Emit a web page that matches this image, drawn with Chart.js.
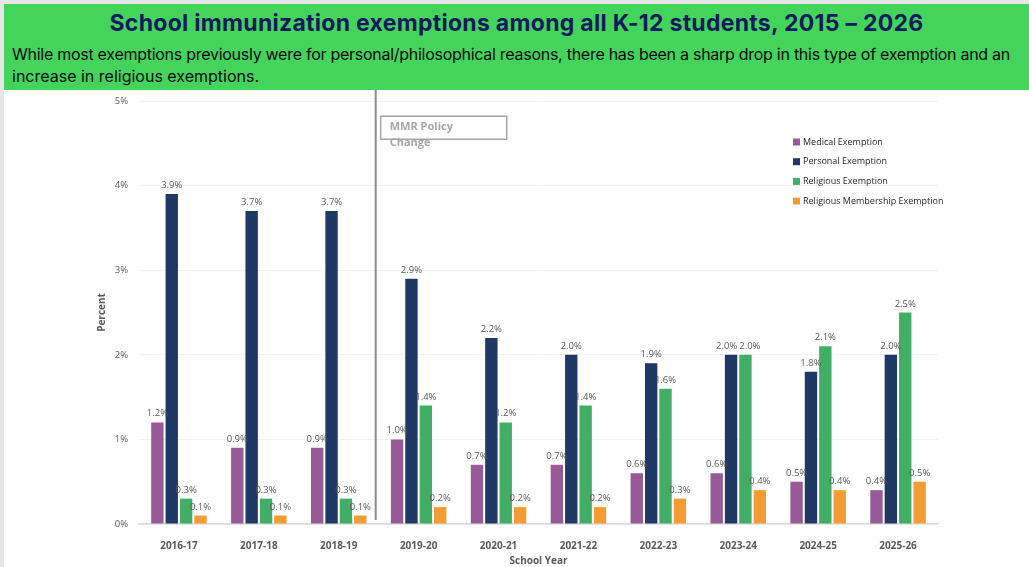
<!DOCTYPE html>
<html>
<head>
<meta charset="utf-8">
<script src="https://cdn.jsdelivr.net/npm/chart.js@4/dist/chart.umd.min.js"></script>
<style>
  html, body { margin: 0; padding: 0; }
  body { width: 1029px; height: 567px; background: #e6e6e6; position: relative; overflow: hidden; }
  #header {
    position: absolute; left: 4px; top: 4px; width: 1025px; height: 86px;
    background: #44d45c; font-family: "Inter", "Open Sans", sans-serif;
  }
  #title {
    position: absolute; left: 0; top: 5px; width: 1025px; text-align: center;
    font-size: 23px; font-weight: bold; color: #13195e; white-space: nowrap;
  }
  #sub {
    position: absolute; left: 8px; top: 39px; width: 1015px; white-space: nowrap;
    font-size: 16px; line-height: 22px; color: #0a0a0a;
  }
  #wrap { position: absolute; left: 4px; top: 90px; width: 1025px; height: 477px; background: #fff; }
</style>
</head>
<body>
<div id="header">
  <div id="title"><span id="titleText">School immunization exemptions among all K-12 students, 2015 – 2026</span></div>
  <div id="sub"><span id="subLine1">While most exemptions previously were for personal/philosophical reasons, there has been a sharp drop in this type of exemption and an</span><br>increase in religious exemptions.</div>
</div>
<div id="wrap"><canvas id="myChart"></canvas></div>
<script>
// ============================================
// DATA
// ============================================

const years = ['2016-17', '2017-18', '2018-19', '2019-20', '2020-21',
    '2021-22', '2022-23', '2023-24', '2024-25', '2025-26'];

const medical = [1.2, 0.9, 0.9, 1.0, 0.7, 0.7, 0.6, 0.6, 0.5, 0.4];
const personal = [3.9, 3.7, 3.7, 2.9, 2.2, 2.0, 1.9, 2.0, 1.8, 2.0];
const religious = [0.3, 0.3, 0.3, 1.4, 1.2, 1.4, 1.6, 2.0, 2.1, 2.5];
const membership = [0.1, 0.1, 0.1, 0.2, 0.2, 0.2, 0.3, 0.4, 0.4, 0.5];

const seriesNames = ['Medical Exemption', 'Personal Exemption',
    'Religious Exemption', 'Religious Membership Exemption'];
const seriesColors = ['#975a97', '#1f3864', '#42ad64', '#f19d33'];

const policyIndex = 3; // policy change before 2019-20

const labelFont = '"Open Sans", "Noto Sans", sans-serif';

// ============================================
// HEADER TEXT FIT
// ============================================

function fitWidth(el, target) {
    const w = el.getBoundingClientRect().width;
    const n = el.textContent.length;
    el.style.letterSpacing = ((target - w) / n) + 'px';
}
fitWidth(document.getElementById('titleText'), 814);
fitWidth(document.getElementById('subLine1'), 998);

// ============================================
// PLUGINS
// ============================================

const valueLabels = {
    id: 'valueLabels',
    afterDatasetsDraw(chart) {
        const c = chart.ctx;
        c.save();
        c.font = '9.5px ' + labelFont;
        c.fillStyle = '#595959';
        c.textAlign = 'center';
        c.textBaseline = 'alphabetic';
        const n = chart.data.labels.length;
        const metas = chart.data.datasets.map((ds, di) => chart.getDatasetMeta(di));
        for (let i = 0; i < n; i++) {
            const items = metas.map((m, di) => {
                const txt = chart.data.datasets[di].data[i].toFixed(1) + '%';
                return { txt, x: m.data[i].x, y: m.data[i].y - 6, w: c.measureText(txt).width };
            });
            // push apart neighbouring labels that would collide
            for (let k = 0; k < items.length - 1; k++) {
                const a = items[k], b = items[k + 1];
                const need = (a.w + b.w) / 2 + 2;
                if (Math.abs(a.y - b.y) < 11 && b.x - a.x < need) {
                    const d = (need - (b.x - a.x)) / 2;
                    a.x -= d;
                    b.x += d;
                }
            }
            items.forEach(it => c.fillText(it.txt, it.x, it.y));
        }
        c.restore();
    }
};

const policyLine = {
    id: 'policyLine',
    afterDatasetsDraw(chart) {
        const c = chart.ctx;
        const x = chart.scales.x;
        const y = chart.scales.y;
        const lx = (x.getPixelForValue(policyIndex - 1) + x.getPixelForValue(policyIndex)) / 2 - 3;
        c.save();
        c.strokeStyle = '#8c8c8c';
        c.lineWidth = 2;
        c.beginPath();
        c.moveTo(lx, 0);
        c.lineTo(lx, y.getPixelForValue(0) - 4);
        c.stroke();

        // annotation box
        const bx = lx + 5;
        const by = y.getPixelForValue(4.82);
        c.strokeStyle = '#a6a6a6';
        c.lineWidth = 1.5;
        c.strokeRect(bx, by, 126, 23);
        c.font = 'bold 11px ' + labelFont;
        c.fillStyle = '#a6a6a6';
        c.textAlign = 'left';
        c.textBaseline = 'middle';
        c.fillText('MMR Policy', bx + 9, by + 11);
        c.fillText('Change', bx + 9, by + 27);
        c.restore();
    }
};

const sideLegend = {
    id: 'sideLegend',
    afterDraw(chart) {
        const c = chart.ctx;
        const lx = chart.chartArea.right - 145;
        const ly = chart.chartArea.top + 41;
        c.save();
        c.font = '9px ' + labelFont;
        c.textAlign = 'left';
        c.textBaseline = 'middle';
        chart.data.datasets.forEach((ds, i) => {
            const yy = ly + i * 19.7;
            c.fillStyle = ds.backgroundColor;
            c.fillRect(lx, yy - 3.5, 7, 7);
            c.fillStyle = '#262626';
            c.fillText(ds.label, lx + 10, yy);
        });
        c.restore();
    }
};

// ============================================
// CREATE CHART
// ============================================

const ctx = document.getElementById('myChart');

new Chart(ctx, {

    type: 'bar',

    data: {
        labels: years,
        datasets: [medical, personal, religious, membership].map((d, i) => ({
            label: seriesNames[i],
            data: d,
            backgroundColor: seriesColors[i],
            categoryPercentage: 0.72,
            barPercentage: 0.86
        }))
    },

    options: {
        responsive: true,
        maintainAspectRatio: false,
        animation: false,
        layout: {
            padding: { left: 88, right: 91, top: 11, bottom: 0 }
        },
        plugins: {
            legend: { display: false },
            tooltip: { enabled: false }
        },
        scales: {
            x: {
                afterFit(scale) { scale.height = 43; },
                grid: { display: false },
                border: { color: '#d9d9d9', width: 1.5 },
                ticks: {
                    color: '#595959',
                    padding: 8,
                    font: { family: labelFont, size: 10, weight: 'bold' }
                },
                title: {
                    display: true,
                    text: 'School Year',
                    color: '#595959',
                    padding: { top: 2, bottom: 0 },
                    font: { family: labelFont, size: 10, weight: 'bold' }
                }
            },
            y: {
                min: 0,
                max: 5,
                afterFit(scale) {
                    scale.width = 47;
                    scale.paddingTop = 0;
                    scale.paddingBottom = 0;
                },
                border: { display: false },
                grid: { color: '#f2f2f2', drawTicks: false },
                ticks: {
                    stepSize: 1,
                    color: '#595959',
                    padding: 11,
                    callback: v => v + '%',
                    font: { family: labelFont, size: 9.5 }
                },
                title: {
                    display: true,
                    text: 'Percent',
                    color: '#595959',
                    padding: { top: 4, bottom: 0 },
                    font: { family: labelFont, size: 10, weight: 'bold' }
                }
            }
        }
    },

    plugins: [valueLabels, policyLine, sideLegend]
});
</script>
</body>
</html>
